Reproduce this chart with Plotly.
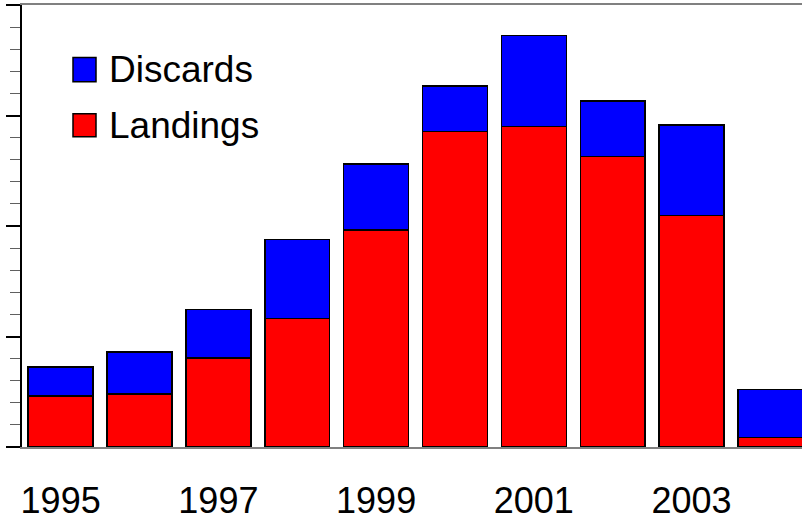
import plotly.graph_objects as go

years = ["1995", "1996", "1997", "1998", "1999", "2000", "2001", "2002", "2003", "2004"]
landings = [2.31, 2.39, 4.02, 5.82, 9.81, 14.27, 14.50, 13.14, 10.47, 0.43]
discards = [1.31, 1.90, 2.21, 3.58, 3.00, 2.07, 4.11, 2.51, 4.11, 2.17]
tick_years = ["1995", "1997", "1999", "2001", "2003"]
series_names = ["Discards", "Landings"]
series_colors = ["#0000ff", "#ff0000"]

fig = go.Figure()
fig.add_trace(go.Bar(x=years, y=landings, name=series_names[1],
                     marker=dict(color=series_colors[1], line=dict(color="black", width=1.5)),
                     showlegend=False))
fig.add_trace(go.Bar(x=years, y=discards, name=series_names[0],
                     marker=dict(color=series_colors[0], line=dict(color="black", width=1.5)),
                     showlegend=False))

# manual legend (large boxes like the reference)
W, H = 780.0, 441.2
def px_x(p):
    return (p - 22) / W
def px_y(p):
    return (446.7 - p) / H

legend_rows = [(58, 82), (114, 137)]
for name, color, (t, b) in zip(series_names, series_colors, legend_rows):
    fig.add_shape(type="rect", xref="paper", yref="paper",
                  x0=px_x(73), x1=px_x(96), y0=px_y(b), y1=px_y(t),
                  fillcolor=color, line=dict(color="black", width=1.5))
    fig.add_annotation(xref="paper", yref="paper", x=px_x(107), y=px_y((t + b) / 2),
                       text=name, showarrow=False, xanchor="left", yanchor="middle",
                       font=dict(size=37, color="black", family="Liberation Sans, Arial"))

fig.update_layout(
    barmode="stack",
    bargap=0.177,
    width=802, height=522,
    margin=dict(l=22, r=0, t=5, b=75, autoexpand=False),
    paper_bgcolor="white", plot_bgcolor="white",
    font=dict(family="Liberation Sans, Arial", color="black"),
)
fig.update_xaxes(
    type="category",
    range=[-0.49, 9.40],
    tickvals=tick_years, ticktext=tick_years,
    ticks="outside", ticklen=21, tickcolor="rgba(0,0,0,0)",
    tickfont=dict(size=36, color="black"),
    showline=True, linecolor="#808080", linewidth=1.5, mirror=True,
    showgrid=False, zeroline=False, automargin=False,
)
fig.update_yaxes(
    range=[0, 20], dtick=5, tick0=0,
    ticks="outside", ticklen=14, tickwidth=1.5, tickcolor="black",
    showticklabels=False,
    minor=dict(dtick=1, ticks="outside", ticklen=10, tickwidth=1.2, tickcolor="#606060"),
    showline=True, linecolor="black", linewidth=1.5,
    showgrid=False, zeroline=False, automargin=False,
)

fig.write_html(
    "out.html",
    config={"displayModeBar": False},
    post_script="document.body.style.margin='0';document.body.style.overflow='hidden';",
)
